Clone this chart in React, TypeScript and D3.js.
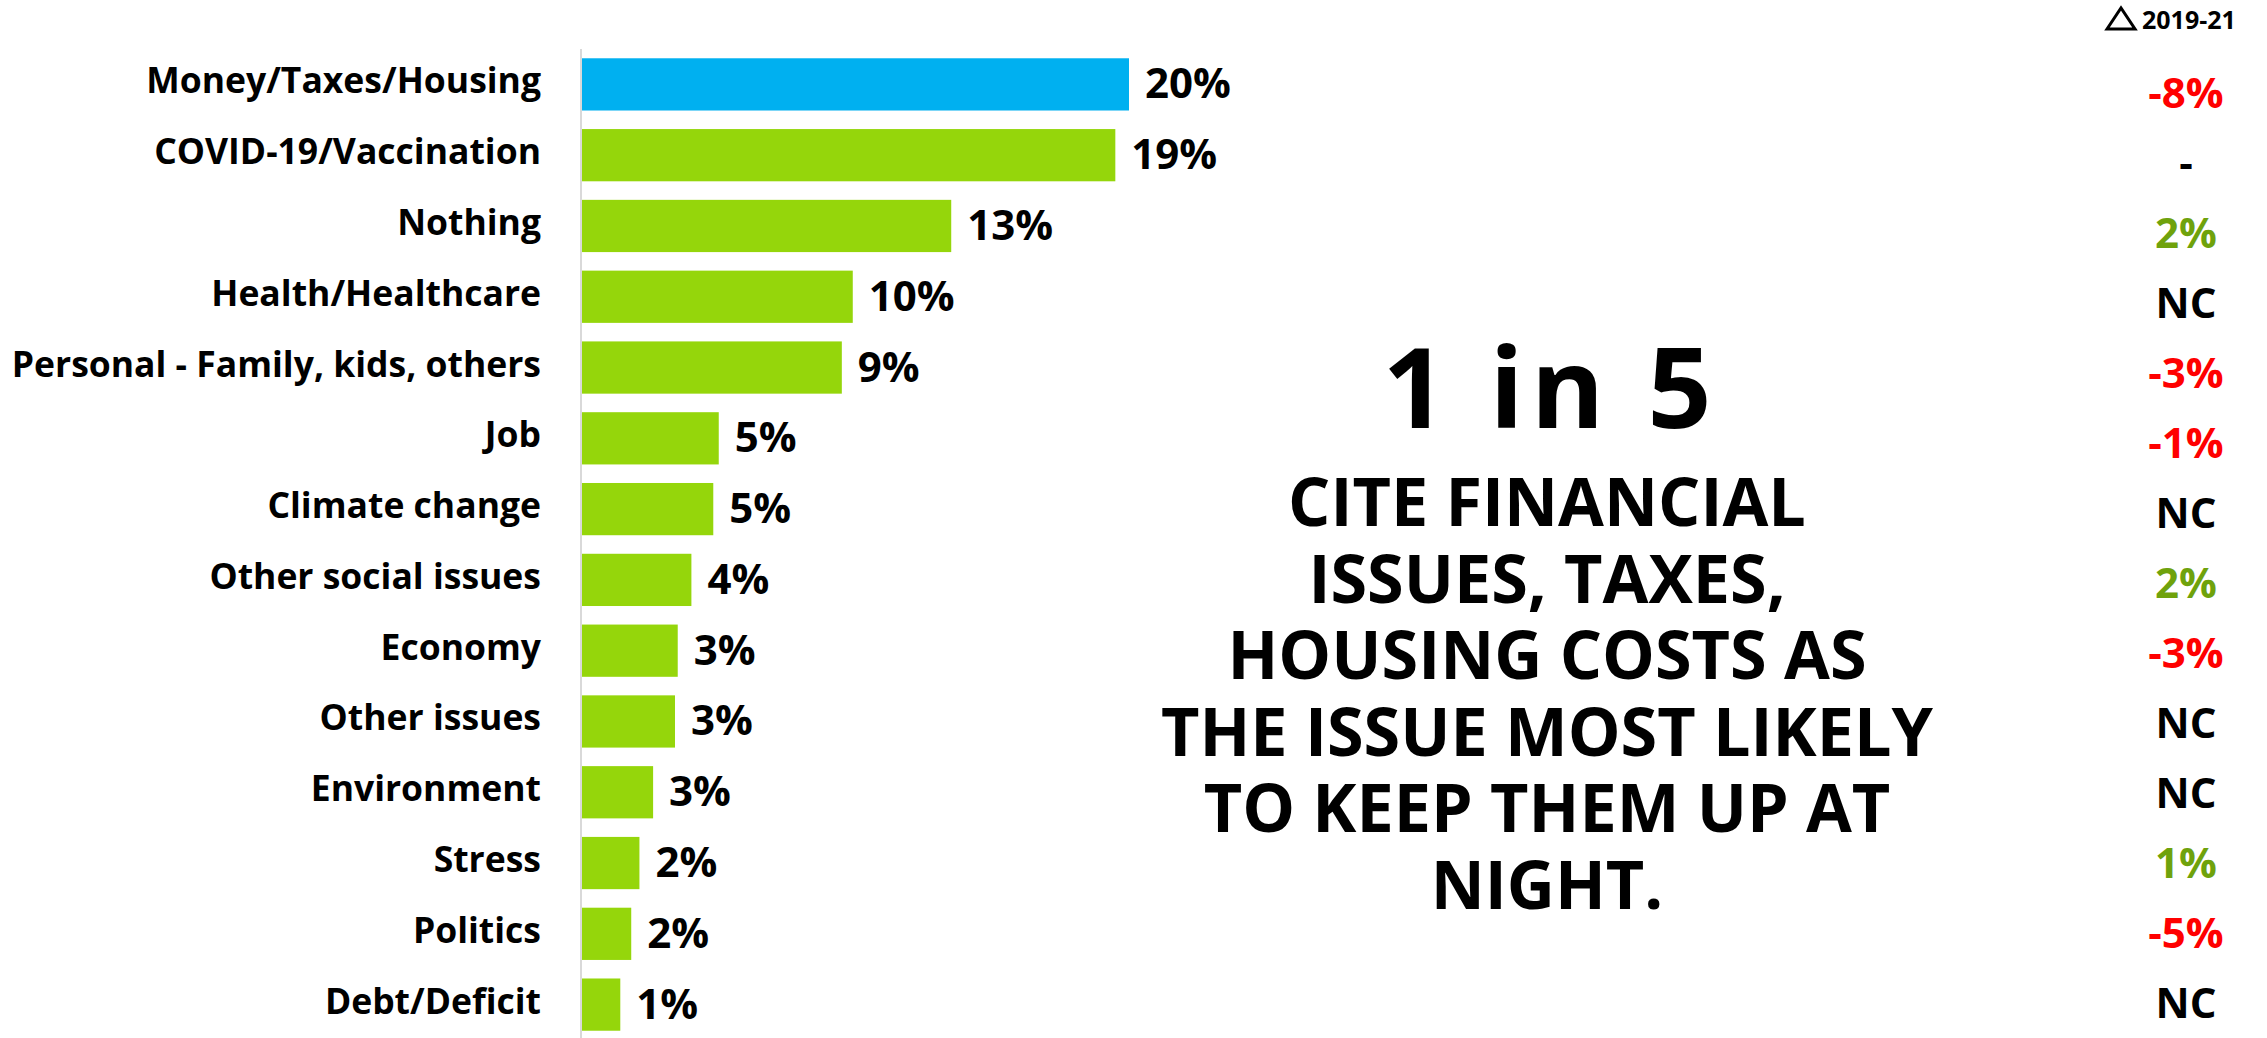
import React from 'react';
import * as d3 from 'd3';

const categories = [
  'Money/Taxes/Housing',
  'COVID-19/Vaccination',
  'Nothing',
  'Health/Healthcare',
  'Personal - Family, kids, others',
  'Job',
  'Climate change',
  'Other social issues',
  'Economy',
  'Other issues',
  'Environment',
  'Stress',
  'Politics',
  'Debt/Deficit',
];

const shares = [20, 19.5, 13.5, 9.9, 9.5, 5.0, 4.8, 4.0, 3.5, 3.4, 2.6, 2.1, 1.8, 1.4];
const shareLabels = ['20%', '19%', '13%', '10%', '9%', '5%', '5%', '4%', '3%', '3%', '3%', '2%', '2%', '1%'];
const changes = ['-8%', '-', '2%', 'NC', '-3%', '-1%', 'NC', '2%', '-3%', 'NC', 'NC', '1%', '-5%', 'NC'];
const changeHeader = '2019-21';

const headline = '1 in 5';
const statementLines = [
  'CITE FINANCIAL',
  'ISSUES, TAXES,',
  'HOUSING COSTS AS',
  'THE ISSUE MOST LIKELY',
  'TO KEEP THEM UP AT',
  'NIGHT.',
];

const W = 2267;
const H = 1038;
const FONT = '"Open Sans", "Noto Sans", sans-serif';

const changeColor = (c: string) => {
  if (c === 'NC' || c === '-') return '#000000';
  return c.startsWith('-') ? '#FF0000' : '#6FA20C';
};

export default function App() {
  // scales
  const x = d3.scaleLinear().domain([0, 20]).range([582, 1129]);
  const y = d3.scaleBand<string>()
    .domain(categories)
    .range([49, 1040])
    .paddingInner(0.262)
    .paddingOuter(0.131);
  const yChange = d3.scalePoint<string>().domain(categories).range([108, 1018]);
  const yLine = d3.scalePoint<string>().domain(statementLines).range([526, 909]);

  const bw = y.bandwidth();

  return (
    <div style={{ position: 'absolute', left: 0, top: 0 }}>
      <svg width={W} height={H} style={{ display: 'block', background: '#fff' }} fontFamily={FONT}>
        {/* bars */}
        {categories.map((c, i) => (
          <rect
            key={c}
            x={x(0)}
            y={y(c)}
            width={x(shares[i]) - x(0)}
            height={bw}
            fill={i === 0 ? '#00B0F0' : '#95D60B'}
          />
        ))}

        {/* axis line */}
        <line x1={581} x2={581} y1={49} y2={H} stroke="#D9D9D9" strokeWidth={2} />

        {/* category labels */}
        {categories.map((c) => (
          <text
            key={c}
            x={541}
            y={(y(c) as number) + bw / 2 + 9}
            textAnchor="end"
            fontSize={35.5}
            fontWeight={700}
            fill="#000"
          >
            {c}
          </text>
        ))}

        {/* value labels */}
        {categories.map((c, i) => (
          <text
            key={c}
            x={x(shares[i]) + 16}
            y={(y(c) as number) + bw / 2 + 14}
            fontSize={42}
            fontWeight={700}
            fill="#000"
          >
            {shareLabels[i]}
          </text>
        ))}

        {/* change column */}
        <path d="M2107,29 L2121,8 L2135,29 Z" fill="none" stroke="#000" strokeWidth={3} strokeLinejoin="miter" />
        <text x={2142} y={29} fontSize={25} fontWeight={700} fill="#000">
          {changeHeader}
        </text>
        {categories.map((c, i) => (
          <text
            key={c}
            x={2186}
            y={yChange(c)}
            textAnchor="middle"
            fontSize={42}
            fontWeight={700}
            fill={changeColor(changes[i])}
          >
            {changes[i]}
          </text>
        ))}

        {/* callout: one text block, one line per tspan */}
        <text textAnchor="middle" fontWeight={700} fill="#000">
          <tspan x={1547 + 3.5} y={428} fontSize={112} letterSpacing={7}>
            {headline}
          </tspan>
          {statementLines.map((l) => (
            <tspan key={l} x={1547} y={yLine(l)} fontSize={66.5}>
              {l}
            </tspan>
          ))}
        </text>
      </svg>
    </div>
  );
}
